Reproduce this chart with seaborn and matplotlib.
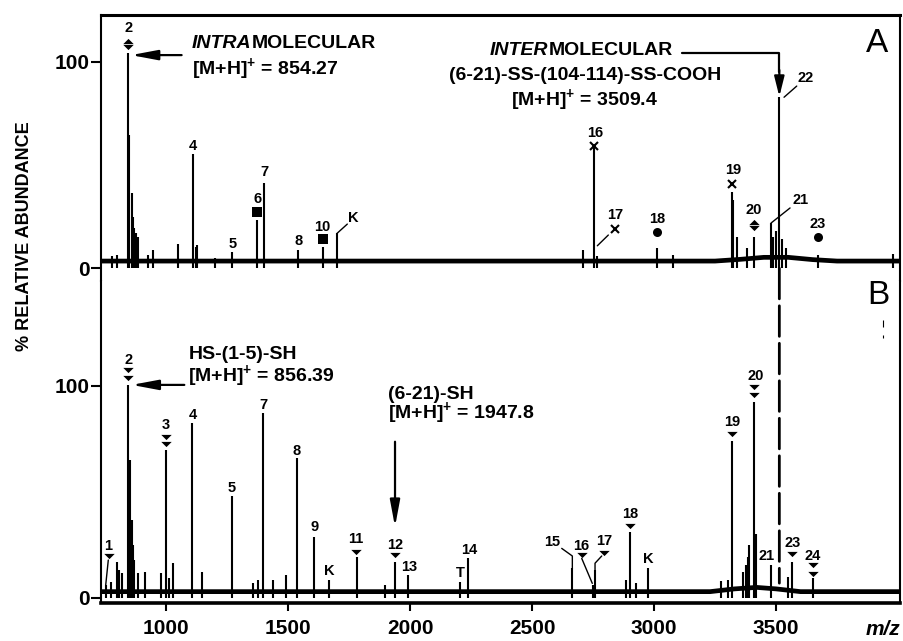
import matplotlib
matplotlib.use("Agg")
import matplotlib.pyplot as plt
import seaborn as sns
import pandas as pd
from matplotlib.patches import ConnectionPatch

# ---------------- Panel A spectrum (m/z, % relative abundance) ----------------
A_mz = [777.5, 798, 845.5, 849.6, 859.4, 863.5, 869, 877, 885, 926, 947, 1050,
        1109.4, 1123, 1128, 1201, 1271.7, 1374.2, 1401.6, 1542.2, 1642.2, 1700.8,
        2709, 2755.3, 2767, 3011, 3078, 3318.4, 3325, 3339, 3380, 3409.8, 3479.5,
        3489, 3500, 3513.5, 3525, 3540, 3670.9, 3979.5]
A_h = [6, 6.5, 104, 64.5, 36.4, 24.8, 19.5, 17, 15, 6.4, 8.9, 11.8,
       55.3, 10.3, 11.3, 5, 7.9, 23.4, 41.3, 8.9, 10.3, 17.1,
       8.8, 58.7, 6, 9.8, 6.5, 36.9, 33, 15.2, 9.7, 15.2, 22,
       15, 18, 82.9, 14, 10, 6.4, 7]
A_base_mz = [734, 3250, 3350, 3450, 3550, 3650, 3750, 4008]
A_base_h = [3.5, 3.5, 4.3, 5.3, 5.3, 4.2, 3.5, 3.5]

# ---------------- Panel B spectrum ----------------
B_mz = [752.9, 774, 798, 808.6, 818.4, 845.5, 852.5, 859.4, 864.8, 870, 886.5, 914,
        979.5, 1000, 1013.5, 1030, 1105.3, 1148.8, 1269.3, 1355.3, 1378.3, 1398.8,
        1439.8, 1491.8, 1535.7, 1606.6, 1666.8, 1781.6, 1897.5, 1938.5, 1990.6,
        2204.9, 2236.5, 2665.2, 2751, 2758, 2884, 2901.6, 2925, 2974, 3274.6,
        3304.5, 3318.4, 3366, 3375.8, 3384, 3390.6, 3409.8, 3416.8, 3479.5,
        3550.4, 3566.8, 3652.9]
B_h = [6, 7.5, 17.1, 13.2, 11.8, 100.5, 65, 36.8, 25, 18, 11.8, 12.3,
       11.8, 69.8, 9.4, 16.5, 82.5, 12.4, 48.1, 7, 8.5, 87.3,
       8.5, 11, 66, 28.9, 8.5, 19.5, 6, 17.1, 10.8,
       7.7, 18.9, 14.2, 6, 13.2, 8.5, 31.3, 7, 14.2, 8,
       8.5, 74.2, 12.4, 15.6, 19.5, 25, 92.6, 30, 15.6,
       10, 17.1, 9.6]
B_base_mz = [734, 3230, 3330, 3420, 3500, 3600, 4008]
B_base_h = [3, 3, 4.3, 5, 4.3, 3, 3]

# ---------------- peak annotations ----------------
A_labels = [("2", 845.5, 116.2), ("4", 1109.4, 59.2), ("5", 1271.7, 11.8), ("6", 1374.2, 33.4),
            ("7", 1401.6, 46.4), ("8", 1542.2, 13.2), ("10", 1642.2, 20.1), ("K", 1769, 24.2),
            ("16", 2759, 65.3), ("17", 2839, 25.7), ("18", 3012, 24.0), ("19", 3325, 47.6),
            ("20", 3409, 28.2), ("21", 3601.8, 33), ("22", 3622, 92), ("23", 3670, 21.5)]
A_diamond_mz = [845.5, 3409.8]
A_diamond_up = [110.2, 22.6]
A_diamond_dn = [107.1, 19.5]
A_square_mz = [1374.2, 1642.2]
A_square_h = [27.3, 14.3]
A_cross_mz = [2755.3, 2841, 3318.4]
A_cross_h = [59.3, 18.9, 41]
A_dot_mz = [3011, 3670.9]
A_dot_h = [17.6, 15.2]
A_leaders = [[(1700.8, 16.9), (1743, 21.4)], [(2767.6, 10.9), (2812.7, 16.1)],
             [(3479.5, 21.9), (3557.4, 29.2)], [(3532.8, 82.8), (3584.8, 88.2)]]

B_labels = [("1", 763.5, 24.6), ("2", 845.5, 112.3), ("3", 999, 81.6), ("4", 1108.6, 86.5),
            ("5", 1267, 51.7), ("7", 1398.8, 91), ("8", 1537, 69.4), ("9", 1607.9, 33.3),
            ("K", 1668.7, 12.6), ("11", 1775.8, 27.6), ("12", 1939.8, 25.2), ("13", 1998, 14.5),
            ("T", 2206, 11.8), ("14", 2242.6, 22.5), ("15", 2582.8, 26.2), ("16", 2702.9, 24.4),
            ("17", 2795.8, 26.8), ("18", 2902.5, 39.4), ("K", 2976.8, 18.2), ("19", 3321.7, 83.2),
            ("20", 3415.3, 104.6), ("21", 3463, 20.0), ("23", 3567, 25.9), ("24", 3651.6, 19.9)]
B_tri_mz = [765.2, 1778.7, 1938.5, 2703.6, 2796.4, 2902, 3318.4, 3566.8]
B_tri_h = [19.8, 21.8, 20.5, 20.3, 21.4, 34.0, 77.5, 20.7]
B_dtri_mz = [845.5, 1000, 3409.8, 3652.9]
B_dtri_up = [107.7, 76.1, 99.7, 15.4]
B_dtri_dn = [103.9, 72.4, 95.6, 11.4]
B_leaders = [[(752.9, 6.1), (763.5, 17.9)],
             [(2665.2, 14), (2665.2, 19.8), (2621.7, 23.4)],
             [(2703.6, 18.7), (2747, 6.9)],
             [(2758.2, 13.2), (2758.2, 16.4), (2785.6, 19.8)]]

x_ticks = [1000, 1500, 2000, 2500, 3000, 3500]
y_ticks = [0, 100]
inter_mz = 3513.5

# ---------------- style ----------------
sns.set_theme(style="ticks")
plt.rcParams['font.family'] = ['Liberation Sans', 'DejaVu Sans']
plt.rcParams['font.weight'] = 'bold'
plt.rcParams['mathtext.fontset'] = 'custom'
plt.rcParams['mathtext.rm'] = 'Liberation Sans:bold'
plt.rcParams['mathtext.it'] = 'Liberation Sans:italic:bold'
plt.rcParams['mathtext.bf'] = 'Liberation Sans:bold'

K = 'black'
FS = 14
fig = plt.figure(figsize=(9.04, 6.41), dpi=100)
L, W = 101 / 904, 799 / 904
axA = fig.add_axes([L, 1 - 281 / 641, W, (281 - 14.5) / 641])
axB = fig.add_axes([L, 1 - 603 / 641, W, (603 - 281) / 641], sharex=axA)

for ax in (axA, axB):
    ax.set_facecolor('white')
    ax.set_xlim(733.6, 4008)
    ax.set_yticks(y_ticks)
    ax.tick_params(axis='y', direction='out', length=7, width=1.5, labelsize=15, pad=1,
                   colors=K, right=False)
    for s in ('left', 'right'):
        ax.spines[s].set_linewidth(1.5)
        ax.spines[s].set_color(K)

axA.set_ylim(-6.15, 122.85)
axB.set_ylim(-2.36, 149.5)
axA.spines['bottom'].set_visible(False)
axA.spines['top'].set_linewidth(2.2)
axA.spines['top'].set_color(K)
axB.spines['top'].set_visible(False)
axB.spines['bottom'].set_linewidth(2.6)
axB.spines['bottom'].set_color(K)
axA.tick_params(axis='x', bottom=False, labelbottom=False)
axB.set_xticks(x_ticks)
axB.tick_params(axis='x', direction='out', length=5.5, width=1.5, labelsize=15, pad=6, colors=K)

# baselines (seaborn)
sns.lineplot(x=A_base_mz, y=A_base_h, ax=axA, color=K, lw=3.4, estimator=None, sort=False)
sns.lineplot(x=B_base_mz, y=B_base_h, ax=axB, color=K, lw=3.4, estimator=None, sort=False)

# stick peaks
axA.vlines(A_mz, 0, A_h, color=K, lw=1.5)
axB.vlines(B_mz, 0, B_h, color=K, lw=1.5)

# markers
tri_up = [(-1, -0.5), (1, -0.5), (0, 0.5), (-1, -0.5)]
tri_dn = [(-1, 0.5), (1, 0.5), (0, -0.5), (-1, 0.5)]
axA.plot(A_diamond_mz, A_diamond_up, ls='none', marker=tri_up, ms=7.5, color=K, mew=0)
axA.plot(A_diamond_mz, A_diamond_dn, ls='none', marker=tri_dn, ms=7.5, color=K, mew=0)
axA.plot(A_square_mz, A_square_h, ls='none', marker='s', ms=6.5, color=K, mew=0)
axA.plot(A_cross_mz, A_cross_h, ls='none', marker='x', ms=5.5, color=K, mew=1.5)
axA.plot(A_dot_mz, A_dot_h, ls='none', marker='o', ms=6.5, color=K, mew=0)
axB.plot(B_tri_mz, B_tri_h, ls='none', marker=tri_dn, ms=7.5, color=K, mew=0)
axB.plot(B_dtri_mz, B_dtri_up, ls='none', marker=tri_dn, ms=7.5, color=K, mew=0)
axB.plot(B_dtri_mz, B_dtri_dn, ls='none', marker=tri_dn, ms=7.5, color=K, mew=0)

# leader lines
for ax, leaders in ((axA, A_leaders), (axB, B_leaders)):
    for pts in leaders:
        ax.plot([p[0] for p in pts], [p[1] for p in pts], color=K, lw=1.0)

# peak number labels
for ax, labels in ((axA, A_labels), (axB, B_labels)):
    for t, x, y in labels:
        ax.text(x, y, t, ha='center', va='center', fontsize=10.5, fontweight='bold', color=K)

# panel letters
axA.text(3912.7, 108.9, "A", fontsize=24, fontweight='normal', ha='center', va='center', color=K)
axB.text(3920, 142.5, "B", fontsize=24, fontweight='normal', ha='center', va='center', color=K)

arrow_kw = dict(arrowstyle='-|>,head_length=0.8,head_width=0.15', color=K, lw=1.6,
                shrinkA=0, shrinkB=0, mutation_scale=20)

# Panel A annotations
t1 = axA.text(1105.3, 108.6, "INTRA", fontsize=FS, fontweight='bold', fontstyle='italic',
              ha='left', va='center', color=K)
axA.annotate("MOLECULAR", xy=(1, 0), xycoords=t1, ha='left', va='bottom', fontsize=FS,
             fontweight='bold', color=K)
axA.text(1105.3, 96.6, "[M+H]$^{+}$ = 854.27", fontsize=FS, fontweight='bold', ha='left',
         va='center', color=K)
axA.annotate('', xy=(856.6, 103.2), xytext=(1064, 103.2), arrowprops=arrow_kw)

t2 = axA.text(2327.9, 105.6, "INTER", fontsize=FS, fontweight='bold', fontstyle='italic',
              ha='left', va='center', color=K)
axA.annotate("MOLECULAR", xy=(1, 0), xycoords=t2, ha='left', va='bottom', fontsize=FS,
             fontweight='bold', color=K)
axA.text(2717, 93.4, "(6-21)-SS-(104-114)-SS-COOH", fontsize=FS, fontweight='bold',
         ha='center', va='center', color=K)
axA.text(2717, 81.6, "[M+H]$^{+}$ = 3509.4", fontsize=FS, fontweight='bold',
         ha='center', va='center', color=K)
axA.plot([3113.5, inter_mz, inter_mz], [104, 104, 95], color=K, lw=1.6)
axA.annotate('', xy=(inter_mz, 83.1), xytext=(inter_mz, 96),
             arrowprops=dict(arrowstyle='-|>,head_length=0.8,head_width=0.2', color=K, lw=1.6,
                             shrinkA=0, shrinkB=0, mutation_scale=15))

# Panel B annotations
axB.text(1091.5, 108.9, "HS-(1-5)-SH\n[M+H]$^{+}$ = 856.39", fontsize=FS, fontweight='bold',
         ha='left', va='center', multialignment='left', linespacing=1.0, color=K)
axB.annotate('', xy=(859.4, 100.5), xytext=(1075, 100.5), arrowprops=arrow_kw)
axB.text(1911, 90.6, "(6-21)-SH\n[M+H]$^{+}$ = 1947.8", fontsize=FS, fontweight='bold',
         ha='left', va='center', multialignment='left', linespacing=0.85, color=K)
axB.annotate('', xy=(1938.5, 33.6), xytext=(1938.5, 73.7), arrowprops=arrow_kw)

# small artifact marks in panel B
axB.vlines([3939.8, 3939.8], [128, 122.6], [131, 124], color=K, lw=0.8)

# dashed connector from A to B
con = ConnectionPatch(xyA=(inter_mz, 0), coordsA=axA.transData,
                      xyB=(inter_mz, 7), coordsB=axB.transData,
                      color=K, lw=2, linestyle=(0, (11, 2.5)))
fig.add_artist(con)

# axis labels
for ax in (axA, axB):
    for lab in ax.get_yticklabels() + ax.get_xticklabels():
        lab.set_fontweight('bold')
axB.text(1.0, -0.081, "m/z", transform=axB.transAxes, ha='right', va='center',
         fontsize=15, fontweight='bold', fontstyle='italic', color=K)
fig.text(25 / 904, 1 - 236 / 641, "% RELATIVE ABUNDANCE", rotation=90, ha='center',
         va='center', fontsize=13, fontweight='bold', color=K)

fig.savefig("out.png", dpi=100, facecolor='white')
